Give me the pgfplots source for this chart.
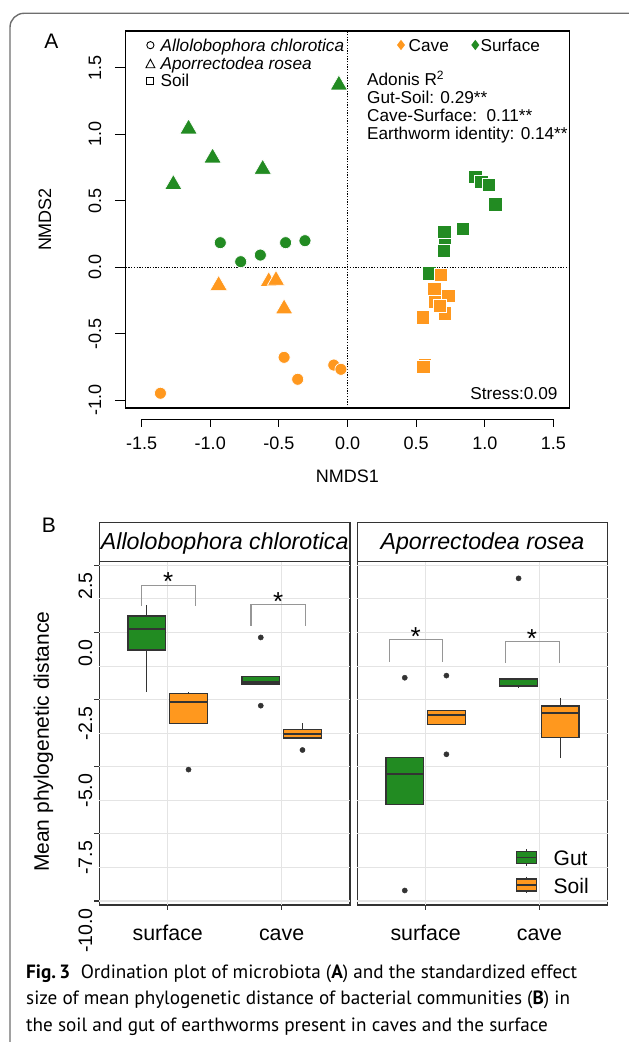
\documentclass[border=0pt]{standalone}
\usepackage{fontspec}
\setmainfont{Liberation Sans}
\newfontfamily\capfont{PT Sans}
\usepackage{pgfplots}
\pgfplotsset{compat=1.18}
\usepgfplotslibrary{statistics}

\definecolor{grn}{RGB}{34,139,34}
\definecolor{org}{RGB}{255,152,30}
\definecolor{edge}{RGB}{51,51,51}
\definecolor{gridc}{RGB}{228,228,228}
\definecolor{brk}{RGB}{150,150,150}
\definecolor{frame}{RGB}{110,110,110}

\newcommand{\fs}[1]{\fontsize{#1}{#1}\selectfont}

% boxes of panel B
\pgfplotsset{
  bx/.style={draw=edge, line width=1.2pt,
    boxplot/draw direction=y,
    boxplot/every median/.style={line width=2.2pt}},
  outl/.style={only marks, mark=*, mark size=2.6pt, color=edge},
  brkt/.style={draw=brk, line width=1.1pt},
}
% ggplot-like grid of a facet, drawn under the boxes
\newcommand{\facetgrid}{%
  \pgfplotsinvokeforeach{-8.75,-6.25,-3.75,-1.25,1.25}{
    \draw[gridc, line width=0.8pt] (axis cs:0.4,##1) -- (axis cs:2.6,##1);}
  \pgfplotsinvokeforeach{-10,-7.5,-5,-2.5,0,2.5}{
    \draw[gridc, line width=1.3pt] (axis cs:0.4,##1) -- (axis cs:2.6,##1);}
  \pgfplotsinvokeforeach{1,2}{
    \draw[gridc, line width=1.3pt] (axis cs:##1,-10.15) -- (axis cs:##1,2.63);}
}

\begin{document}
\begin{tikzpicture}
\useasboundingbox (0,0) rectangle (629pt,1042pt);

% ---------------- panel A: NMDS ordination
\begin{axis}[
  at={(125.7pt,634pt)}, anchor=south west, scale only axis,
  width=443.9pt, height=377pt,
  xmin=-1.616, xmax=1.618, ymin=-1.058, ymax=1.777,
  clip=false,
  axis line style={black, line width=1.3pt},
  tick align=outside, tick pos=left, major tick length=10.7pt,
  xtick={-1.5,-1,-0.5,0,0.5,1,1.5},
  xticklabels={-1.5,-1.0,-0.5,0.0,0.5,1.0,1.5},
  xtick style={draw=none},
  xticklabel style={anchor=center, yshift=-24.6pt, font=\fs{18}},
  ytick={-1,-0.5,0,0.5,1,1.5},
  yticklabels={-1.0,-0.5,0.0,0.5,1.0,1.5},
  ytick style={black, line width=1.2pt},
  yticklabel style={anchor=center, xshift=-20pt, rotate=90, font=\fs{18}},
]
% reference lines
\draw[black, line width=1.3pt, dash pattern=on 1.3pt off 1.4pt]
  (axis cs:0,-1.058) -- (axis cs:0,1.777);
\draw[black, line width=1.3pt, dash pattern=on 1.3pt off 1.4pt]
  (axis cs:-1.616,0) -- (axis cs:1.618,0);
% detached x axis (R style)
\draw[black, line width=1.2pt]
  ([yshift=-11.3pt]axis cs:-1.5,-1.058) -- ([yshift=-11.3pt]axis cs:1.5,-1.058);
\pgfplotsinvokeforeach{-1.5,-1,-0.5,0,0.5,1,1.5}{
  \draw[black, line width=1.2pt]
    ([yshift=-11.3pt]axis cs:#1,-1.058) -- ([yshift=-18.7pt]axis cs:#1,-1.058);
}

% soil, surface
\addplot[only marks, mark=square*, mark size=6.6pt,
  mark options={fill=grn, draw=white, line width=0.7pt}] coordinates {
  (0.710,0.198) (0.596,-0.045) (0.703,0.125) (0.706,0.268) (0.838,0.288)
  (0.931,0.681) (0.975,0.644) (1.027,0.619) (1.077,0.474)
};
% soil, cave
\addplot[only marks, mark=square*, mark size=6.6pt,
  mark options={fill=org, draw=white, line width=0.7pt}] coordinates {
  (0.734,-0.216) (0.710,-0.346) (0.681,-0.058) (0.632,-0.164)
  (0.637,-0.259) (0.674,-0.291) (0.548,-0.376) (0.565,-0.735) (0.552,-0.750)
};
% A. chlorotica
\addplot[only marks, mark=*, mark size=6pt,
  mark options={fill=grn, draw=white, line width=0.7pt}] coordinates {
  (-0.927,0.185) (-0.778,0.042) (-0.635,0.092) (-0.451,0.185) (-0.310,0.200)
};
\addplot[only marks, mark=*, mark size=6pt,
  mark options={fill=org, draw=white, line width=0.7pt}] coordinates {
  (-1.363,-0.947) (-0.462,-0.677) (-0.363,-0.842) (-0.100,-0.735) (-0.048,-0.767)
};
% A. rosea
\addplot[only marks, mark=triangle*, mark size=10pt,
  mark options={fill=grn, draw=white, line width=0.7pt}] coordinates {
  (-0.063,1.371) (-1.158,1.041) (-0.983,0.823) (-0.618,0.738) (-1.269,0.623)
};
\addplot[only marks, mark=triangle*, mark size=10pt,
  mark options={fill=org, draw=white, line width=0.7pt}] coordinates {
  (-0.939,-0.136) (-0.574,-0.107) (-0.521,-0.098) (-0.462,-0.312)
};
\end{axis}

% ---------------- panel B facets
\pgfplotsset{bstyle/.style={
  scale only axis, anchor=south west, height=343.3pt,
  xmin=0.4, xmax=2.6, ymin=-10.15, ymax=2.63,
  clip=false,
  axis line style={edge, line width=1.3pt},
  tick align=outside, tick pos=left,
  major tick length=5pt,
  tick style={edge, line width=1.2pt},
  xtick={1,2}, xticklabels={surface,cave},
  xticklabel style={anchor=base, yshift=-30pt, font=\fs{21.4}},
  ytick={-10,-7.5,-5,-2.5,0,2.5},
}}

% left facet: Allolobophora chlorotica
\begin{axis}[bstyle,
  at={(99.3pt,137pt)}, width=250.7pt,
  yticklabels={-10.0,-7.5,-5.0,-2.5,0.0,2.5},
  yticklabel style={anchor=east, inner sep=0pt, xshift=-8.8pt, yshift=-7pt,
    rotate=90, font=\fs{19.5}},
]
\facetgrid
\addplot[bx, fill=grn, boxplot prepared={draw position=0.817, box extend=0.33,
  whisker extend=0, lower whisker=-2.23, lower quartile=-0.66, median=0.12,
  upper quartile=0.61, upper whisker=1.02}] coordinates {};
\addplot[bx, fill=org, boxplot prepared={draw position=1.183, box extend=0.33,
  whisker extend=0, lower whisker=-3.39, lower quartile=-3.39, median=-2.60,
  upper quartile=-2.29, upper whisker=-2.23}] coordinates {};
\addplot[bx, fill=grn, boxplot prepared={draw position=1.817, box extend=0.33,
  whisker extend=0, lower whisker=-1.93, lower quartile=-1.93, median=-1.87,
  upper quartile=-1.63, upper whisker=-1.63}] coordinates {};
\addplot[bx, fill=org, boxplot prepared={draw position=2.183, box extend=0.33,
  whisker extend=0, lower whisker=-3.93, lower quartile=-3.93, median=-3.79,
  upper quartile=-3.61, upper whisker=-3.39}] coordinates {};
\addplot[outl] coordinates {(1.183,-5.11) (1.817,-0.19) (1.817,-2.73) (2.183,-4.38)};
% significance brackets
\addplot[brkt] coordinates {(0.772,0.98) (0.772,1.76) (1.246,1.76) (1.246,0.98)};
\addplot[brkt] coordinates {(1.731,0.25) (1.731,1.02) (2.210,1.02) (2.210,0.25)};
\node[anchor=base, inner sep=0pt, font=\fs{26}] at (axis cs:1.005,1.54) {*};
\node[anchor=base, inner sep=0pt, font=\fs{26}] at (axis cs:1.970,0.81) {*};
\end{axis}

% right facet: Aporrectodea rosea
\begin{axis}[bstyle,
  at={(357.3pt,137pt)}, width=250.4pt,
  yticklabels={}, ytick style={draw=none},
]
\facetgrid
\addplot[bx, fill=grn, boxplot prepared={draw position=0.817, box extend=0.33,
  whisker extend=0, lower whisker=-6.40, lower quartile=-6.40, median=-5.28,
  upper quartile=-4.66, upper whisker=-4.66}] coordinates {};
\addplot[bx, fill=org, boxplot prepared={draw position=1.183, box extend=0.33,
  whisker extend=0, lower whisker=-3.42, lower quartile=-3.42, median=-3.08,
  upper quartile=-2.92, upper whisker=-2.92}] coordinates {};
\addplot[bx, fill=grn, boxplot prepared={draw position=1.817, box extend=0.33,
  whisker extend=0, lower whisker=-2.08, lower quartile=-2.02, median=-1.99,
  upper quartile=-1.74, upper whisker=-1.74}] coordinates {};
\addplot[bx, fill=org, boxplot prepared={draw position=2.183, box extend=0.33,
  whisker extend=0, lower whisker=-4.69, lower quartile=-3.91, median=-2.99,
  upper quartile=-2.74, upper whisker=-2.43}] coordinates {};
\addplot[outl] coordinates {(0.817,-1.69) (0.817,-9.61) (1.183,-1.61) (1.183,-4.54) (1.817,2.01)};
\addplot[brkt] coordinates {(0.681,-1.09) (0.681,-0.26) (1.149,-0.26) (1.149,-1.09)};
\addplot[brkt] coordinates {(1.700,-1.13) (1.700,-0.35) (2.178,-0.35) (2.178,-1.13)};
\node[anchor=base, inner sep=0pt, font=\fs{26}] at (axis cs:0.912,-0.49) {*};
\node[anchor=base, inner sep=0pt, font=\fs{26}] at (axis cs:1.935,-0.55) {*};
\end{axis}

% ---------------- annotations, in image coordinates (y downwards)
\begin{scope}[x=1pt, y=-1pt, shift={(0,-1042)}]
% outer figure frame
\draw[frame, line width=1.4pt, rounded corners=14pt]
  (10,1100) -- (10,13.3) -- (645,13.3) -- (645,1100);

% panel A texts
\node[font=\fs{21}, inner sep=0pt] at (51.5,41.5) {A};
\node[font=\fs{18}, inner sep=0pt, anchor=base] at (347.5,483) {NMDS1};
\node[font=\fs{18}, inner sep=0pt, rotate=90] at (45,219.5) {NMDS2};
% shape legend
\draw[black, line width=0.9pt] (150.4,45.2) circle (3.6pt);
\draw[black, line width=0.9pt] (145.9,67.8) -- (154.9,67.8) -- (150.4,59.3) -- cycle;
\draw[black, line width=0.9pt] (146.6,77.2) rectangle (153.6,84.2);
\node[font=\fs{17.2}\itshape, inner sep=0pt, anchor=base west] at (160.4,51.7) {Allolobophora chlorotica};
\node[font=\fs{17.2}\itshape, inner sep=0pt, anchor=base west] at (160.4,69.3) {Aporrectodea rosea};
\node[font=\fs{17.2}, inner sep=0pt, anchor=base west] at (160.4,86.7) {Soil};
% colour legend
\fill[org] (401,39.8) -- (405,45) -- (401,50.2) -- (397,45) -- cycle;
\fill[grn] (475.3,39.8) -- (479.3,45) -- (475.3,50.2) -- (471.3,45) -- cycle;
\node[font=\fs{17.2}, inner sep=0pt, anchor=base west] at (408.5,51.7) {Cave};
\node[font=\fs{17.2}, inner sep=0pt, anchor=base west] at (480.5,51.7) {Surface};
% adonis
\node[font=\fs{17.2}, inner sep=0pt, anchor=base west] at (367,85.4) {Adonis R\textsuperscript{2}};
\node[font=\fs{17.2}, inner sep=0pt, anchor=base west] at (367,103.6) {Gut-Soil: 0.29**};
\node[font=\fs{17.2}, inner sep=0pt, anchor=base west] at (367,121.8) {Cave-Surface:\ \ 0.11**};
\node[font=\fs{17.2}, inner sep=0pt, anchor=base west] at (367,140) {Earthworm identity: 0.14**};
\node[font=\fs{17.2}, inner sep=0pt, anchor=base east] at (557.6,399.3) {Stress:0.09};

% panel B texts
\node[font=\fs{21}, inner sep=0pt] at (49,525) {B};
\node[font=\fs{21}, inner sep=0pt, rotate=90] at (43.5,741.7) {Mean phylogenetic distance};
\draw[edge, line width=1.3pt, fill=white] (99.3,522.7) rectangle (350,561.7);
\draw[edge, line width=1.3pt, fill=white] (357.3,522.7) rectangle (607.7,561.7);
\node[font=\fs{23.2}\itshape, inner sep=0pt, anchor=base] at (224.7,550) {Allolobophora chlorotica};
\node[font=\fs{23.2}\itshape, inner sep=0pt, anchor=base] at (482.5,550) {Aporrectodea rosea};
% fill legend
\draw[edge, line width=1.1pt] (526.6,849.3) -- (526.6,866);
\draw[edge, line width=1.1pt, fill=grn] (516.6,851.6) rectangle (536.7,863.7);
\draw[edge, line width=1.8pt] (516.6,857.6) -- (536.7,857.6);
\draw[edge, line width=1.1pt] (526.6,876.7) -- (526.6,893.3);
\draw[edge, line width=1.1pt, fill=org] (516.6,879) rectangle (536.7,891);
\draw[edge, line width=1.8pt] (516.6,885) -- (536.7,885);
\node[font=\fs{21}, inner sep=0pt, anchor=base west] at (553.5,866) {Gut};
\node[font=\fs{21}, inner sep=0pt, anchor=base west] at (553.5,893.3) {Soil};

% caption
\node[font=\capfont\fs{19.2}, inner sep=0pt, anchor=base west] at (26,978.3)
  {\textbf{Fig.\,3}\hspace{0.55em}Ordination plot of microbiota (\textbf{A}) and the standardized effect};
\node[font=\capfont\fs{19.2}, inner sep=0pt, anchor=base west] at (26,1005)
  {size of mean phylogenetic distance of bacterial communities (\textbf{B}) in};
\node[font=\capfont\fs{19.2}, inner sep=0pt, anchor=base west] at (26,1031.7)
  {the soil and gut of earthworms present in caves and the surface};
\end{scope}
\end{tikzpicture}
\end{document}
